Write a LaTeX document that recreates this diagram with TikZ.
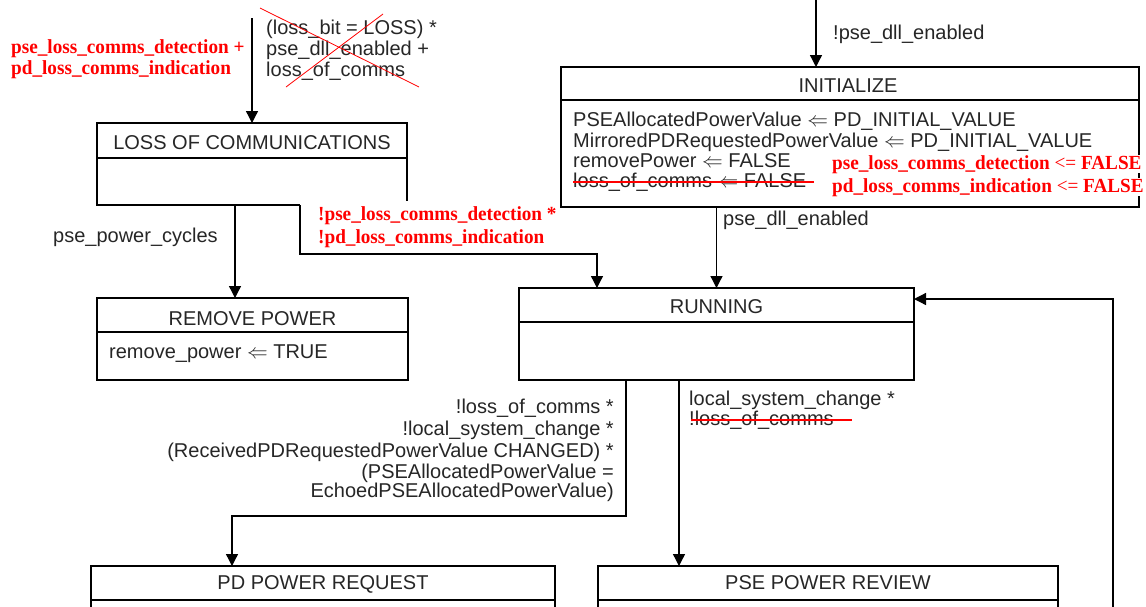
\documentclass[tikz,border=0pt]{standalone}
\usepackage{fontspec}
\setmainfont{Liberation Sans}
\newfontfamily\redfont[FakeStretch=0.96]{Liberation Serif}
\usetikzlibrary{arrows.meta}
\begin{document}
\begin{tikzpicture}[x=1pt,y=-1pt,
  txt/.style={font=\fontsize{20}{21}\selectfont, inner sep=0pt, text=black!85, anchor=base west, text height=14pt, text depth=3.5pt},
  rtxt/.style={font=\fontsize{20}{22}\selectfont\redfont\bfseries, inner sep=0pt, text=red, anchor=base west, text height=14pt, text depth=4pt},
  ttl/.style={font=\fontsize{20}{21}\selectfont, inner sep=0pt, text=black!85, anchor=base},
  stbox/.style={line width=1.3pt, inner sep=0pt, outer sep=0pt, anchor=north west},
  bline/.style={line width=1.3pt},
  conn/.style={line width=1.3pt, -{Triangle[width=12pt,length=12pt]}},
  strike/.style={color=red, line width=1.2pt}]
\path[use as bounding box] (0,0) rectangle (1146,606);
\clip (0,0) rectangle (1146,606);

% boxes
\node[stbox, minimum width=310pt, minimum height=82pt] (loss) at (97,123) {};
\draw[bline] ([xshift=48pt]loss.south) -- (loss.south west) -- (loss.north west) -- (loss.north east) -- ([yshift=4pt]loss.south east);
\draw[bline] (97,158) -- (407,158);
\node[ttl] (lossT) at (252,149) {LOSS OF COMMUNICATIONS};

\node[stbox, draw, minimum width=311pt, minimum height=82pt] (remove) at (97,298) {};
\draw[bline] (97,332) -- (408,332);
\node[ttl] (removeT) at (252.5,325) {REMOVE POWER};
\node[txt] (removeA) at (109,358) {remove\_power $\Leftarrow$ TRUE};

\node[stbox, draw, minimum width=578pt, minimum height=140pt] (init) at (561,67) {};
\draw[bline] (561,100) -- (1139,100);
\node[ttl] (initT) at (848,92) {INITIALIZE};
\node[txt] (i1) at (573,126) {PSEAllocatedPowerValue $\Leftarrow$ PD\_INITIAL\_VALUE};
\node[txt] (i2) at (573,147) {MirroredPDRequestedPowerValue $\Leftarrow$ PD\_INITIAL\_VALUE};
\node[txt] (i3) at (573,167) {removePower $\Leftarrow$ FALSE};
\node[txt] (i4) at (573,187) {loss\_of\_comms $\Leftarrow$ FALSE};
\draw[strike] (i4.base west) ++(0,-5) -- ++(241,0);
\node[rtxt, fill=white] (r3) at (832,169) {pse\_loss\_comms\_detection \textmd{<=} FALSE};
\node[rtxt, fill=white] (r4) at (832,192) {pd\_loss\_comms\_indication \textmd{<=} FALSE};

\node[stbox, draw, minimum width=395pt, minimum height=92pt] (run) at (519,288) {};
\draw[bline] (519,322) -- (914,322);
\node[ttl] (runT) at (716.5,313) {RUNNING};

\node[stbox, draw, minimum width=464pt, minimum height=70pt] (pd) at (91,566) {};
\draw[bline] (91,600) -- (555,600);
\node[ttl] (pdT) at (323,589) {PD POWER REQUEST};

\node[stbox, draw, minimum width=460pt, minimum height=70pt] (review) at (598,566) {};
\draw[bline] (598,600) -- (1058,600);
\node[ttl] (reviewT) at (828,589) {PSE POWER REVIEW};

% top-left entry
\coordinate (e1) at (252,18);
\draw[conn] (e1) -- (loss.north);
\node[rtxt] (tl1) at (11,53) {pse\_loss\_comms\_detection +};
\node[rtxt] (tl2) at (11,74) {pd\_loss\_comms\_indication};
\node[txt] (tr1) at (266,34) {(loss\_bit = LOSS) *};
\node[txt] (tr2) at (266,55) {pse\_dll\_enabled +};
\node[txt] (tr3) at (266,76) {loss\_of\_comms};
\draw[red, line width=0.8pt] (260,8) -- (419,87);
\draw[red, line width=0.8pt] (383,14) -- (286,87);

% init entry
\coordinate (e2) at (816,0);
\draw[conn] (e2) -- (e2 |- init.north);
\node[txt] (pde) at (833,39) {!pse\_dll\_enabled};

% init -> running
\draw[conn] (init.south -| run.north) -- (run.north);
\node[txt] (pde2) at (723,225) {pse\_dll\_enabled};

% loss -> remove
\draw[conn] ([xshift=-17pt]loss.south) -- ([xshift=-17.5pt]remove.north);
\node[txt] (ppc) at (53,242) {pse\_power\_cycles};

% loss -> running
\draw[conn] ([xshift=48pt]loss.south) -- ++(0,49) -| ([xshift=-119.5pt]run.north);
\node[rtxt] (m1) at (318,220) {!pse\_loss\_comms\_detection *};
\node[rtxt] (m2) at (318,243) {!pd\_loss\_comms\_indication};

% running -> pd
\draw[conn] ([xshift=-90.5pt]run.south) -- ++(0,136) -| ([xshift=-91pt]pd.north);
\node[txt, anchor=base east] (p1) at (614,413) {!loss\_of\_comms *};
\node[txt, anchor=base east] (p2) at (614,435) {!local\_system\_change *};
\node[txt, anchor=base east] (p3) at (614,457) {(ReceivedPDRequestedPowerValue CHANGED) *};
\node[txt, anchor=base east] (p4) at (614,478) {(PSEAllocatedPowerValue =};
\node[txt, anchor=base east] (p5) at (614,497) {EchoedPSEAllocatedPowerValue)};

% running -> review
\draw[conn] ([xshift=-37.5pt]run.south) -- ([xshift=-37.5pt]run.south |- review.north);
\node[txt] (q1) at (689,405) {local\_system\_change *};
\node[txt] (q2) at (689,425) {!loss\_of\_comms};
\draw[strike] (q2.base west) ++(2,-5) -- ++(161,0);

% review -> running (feedback)
\coordinate (e3) at (1113,620);
\draw[conn] (e3) |- ([yshift=-11pt]run.north east);
\end{tikzpicture}
\end{document}
